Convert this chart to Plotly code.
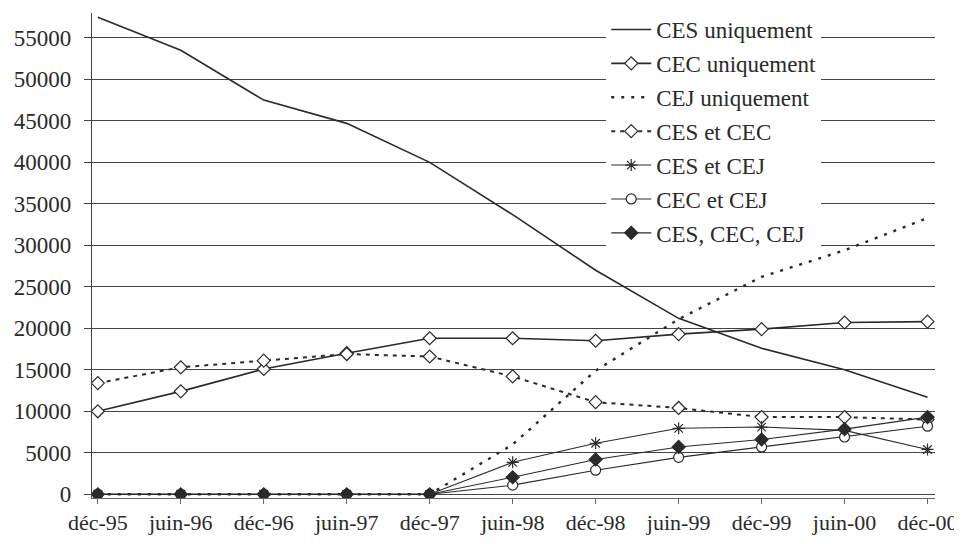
import plotly.graph_objects as go

categories = ["déc-95", "juin-96", "déc-96", "juin-97", "déc-97", "juin-98",
              "déc-98", "juin-99", "déc-99", "juin-00", "déc-00"]

ces_uniquement = [57500, 53500, 47500, 44700, 40000, 33700, 27000, 21200, 17600, 15000, 11700]
cec_uniquement = [10000, 12400, 15100, 17000, 18800, 18800, 18500, 19300, 19900, 20700, 20800]
cej_uniquement = [0, 0, 0, 0, 0, 6000, 14900, 21100, 26200, 29400, 33300]
ces_et_cec = [13400, 15300, 16100, 16900, 16600, 14200, 11100, 10400, 9300, 9300, 9000]
ces_et_cej = [0, 0, 0, 0, 0, 3850, 6150, 7950, 8100, 7700, 5400]
cec_et_cej = [0, 0, 0, 0, 0, 1100, 2900, 4450, 5700, 6900, 8200]
ces_cec_cej = [0, 0, 0, 0, 0, 2050, 4200, 5700, 6600, 7850, 9300]

y_ticks = [0, 5000, 10000, 15000, 20000, 25000, 30000, 35000, 40000, 45000, 50000, 55000]
y_tick_labels = [str(v) for v in y_ticks]

x = list(range(len(categories)))
FONT = "Liberation Serif"
FS = 23
INK = "#2a2a2a"

fig = go.Figure()

def add(name, y, dash="solid", symbol=None, fill=False, width=1.5, size=9, open_line=False):
    mode = "lines+markers" if symbol else "lines"
    marker = dict()
    if symbol:
        if open_line:
            marker = dict(symbol=symbol, size=size, color=INK,
                          line=dict(color=INK, width=1.2))
        else:
            marker = dict(symbol=symbol, size=size,
                          color=INK if fill else "white",
                          line=dict(color=INK, width=1.2))
    fig.add_trace(go.Scatter(
        x=x, y=y, name=name, mode=mode, legendgroup=name,
        line=dict(color=INK, width=width, dash=dash),
        marker=marker,
    ))

add("CES uniquement", ces_uniquement, width=1.6)
add("CEC uniquement", cec_uniquement, symbol="diamond", width=1.6, size=10)
add("CEJ uniquement", cej_uniquement, dash="3px,7px", width=2.4)
add("CES et CEC", ces_et_cec, dash="4px,5px", symbol="diamond", width=2.0, size=10)
add("CES et CEJ", ces_et_cej, symbol="asterisk-open", width=1.1, size=10, open_line=True)
add("CEC et CEJ", cec_et_cej, symbol="circle", width=1.1, size=10)
add("CES, CEC, CEJ", ces_cec_cej, symbol="diamond", fill=True, width=1.1, size=10)

# page body has an 8px default margin, so the figure is sized to fit the window
fig.update_layout(
    width=954, height=528,
    margin=dict(l=84, r=27, t=5, b=38, autoexpand=False),
    paper_bgcolor="white", plot_bgcolor="white",
    font=dict(family=FONT, size=FS, color=INK),
    showlegend=True,
    legend=dict(x=0.61, y=1.0, xanchor="left", yanchor="top", yref="container",
                bgcolor="white", borderwidth=0,
                font=dict(family=FONT, size=FS, color=INK),
                tracegroupgap=1, itemwidth=40),
    xaxis=dict(
        tickmode="array", tickvals=x, ticktext=categories,
        range=[-0.07, 10.09], showgrid=False, zeroline=False,
        showline=True, linecolor="#666666", linewidth=1,
        ticks="outside", ticklen=5, tickcolor="#666666",
        tickfont=dict(family=FONT, size=22, color=INK),
    ),
    yaxis=dict(
        tickmode="array", tickvals=y_ticks, ticktext=y_tick_labels,
        range=[-450, 58000], showgrid=True, gridcolor="#444444", gridwidth=1.3,
        zeroline=False, showline=True, linecolor="#444444", linewidth=1.2,
        ticks="outside", ticklen=7, tickcolor="#444444",
        ticklabelstandoff=8,
        tickfont=dict(family=FONT, size=FS, color=INK),
    ),
)

fig.write_html("out.html")
